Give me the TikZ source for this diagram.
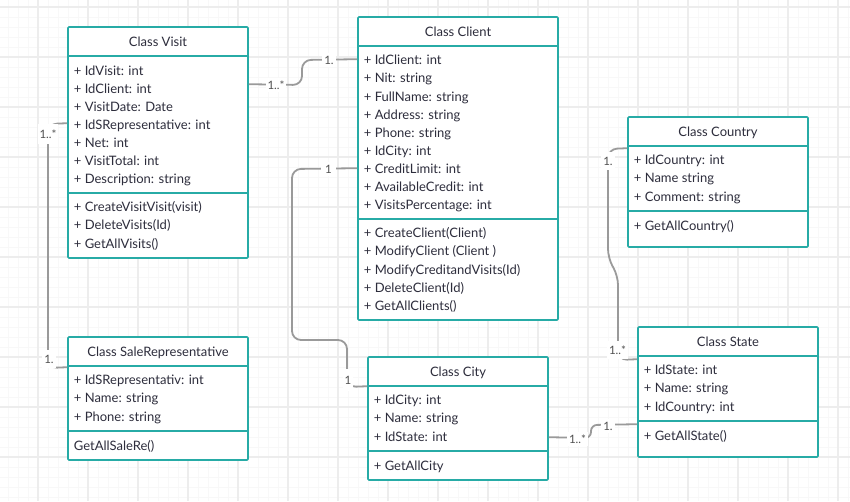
\documentclass[tikz,border=0pt]{standalone}
\usepackage{fontspec}
\setmainfont{Lato}
\usetikzlibrary{fit,calc}

\definecolor{frameteal}{HTML}{27ABA6}
\definecolor{inktext}{HTML}{2D2D3C}
\definecolor{linkgray}{HTML}{9A9A9A}
\definecolor{labelgray}{HTML}{505050}
\definecolor{gridmajor}{HTML}{EDEDED}
\definecolor{gridminor}{HTML}{F8F8F8}

\tikzset{
  classframe/.style={draw=frameteal, line width=1.6pt, fill=white, inner sep=0pt, rounded corners=1pt},
  divider/.style={draw=frameteal, line width=1.6pt},
  titletext/.style={font=\fontsize{13}{15}\selectfont, text=inktext, anchor=base, inner sep=0pt},
  rowtext/.style={font=\fontsize{13}{15}\selectfont, text=inktext, anchor=base west, inner sep=0pt},
  link/.style={draw=linkgray, line width=1.8pt, rounded corners=9pt},
  mult/.style={font=\fontsize{11.5}{13}\selectfont, text=labelgray, fill=white, inner xsep=2pt, inner ysep=3pt},
}

% class box: name, left, top, right, title rule, method rule, bottom, title
\newcommand\umlclass[8]{%
  \node[classframe, fit={(#2,#3) (#4,#7)}] (#1) {};
  \draw[divider] (#2,#5) -- (#4,#5);
  \draw[divider] (#2,#6) -- (#4,#6);
  \node[titletext] (#1-title) at ({(#2+#4)/2},{(#3+#5)/2+5}) {#8};
}
% member rows: prefix, box left, centre of first row, entries
\newcommand\umlrows[4]{%
  \foreach \entry [count=\k] in {#4} {
    \node[rowtext] (#1-\k) at ({#2+5.7},{#3+4.8+(\k-1)*18.1}) {\entry};
  }
}

\begin{document}
\begin{tikzpicture}[x=1pt,y=-1pt]
  \useasboundingbox (0,0) rectangle (850,501);
  \fill[white] (0,0) rectangle (850,501);

  % background grid
  \foreach \x in {8,18,...,848} \draw[gridminor, line width=0.8pt] (\x,0) -- (\x,501);
  \foreach \y in {7,17,...,497} \draw[gridminor, line width=0.8pt] (0,\y) -- (850,\y);
  \foreach \x in {38,88,...,838} \draw[gridmajor, line width=1.5pt] (\x,0) -- (\x,501);
  \foreach \y in {7,57,...,457} \draw[gridmajor, line width=1.5pt] (0,\y) -- (850,\y);

  % classes
  \umlclass{visit}{68}{27}{248}{56}{193}{258}{Class Visit}
  \umlrows{visit-a}{68}{70.5}{{+ IdVisit: int},{+ IdClient: int},{+ VisitDate: Date},{+ IdSRepresentative: int},{+ Net: int},{+ VisitTotal: int},{+ Description: string}}
  \umlrows{visit-m}{68}{207}{{+ CreateVisitVisit(visit)},{+ DeleteVisits(Id)},{+ GetAllVisits()}}

  \umlclass{client}{358}{17}{558}{46}{219}{320}{Class Client}
  \umlrows{client-a}{358}{60}{{+ IdClient: int},{+ Nit: string},{+ FullName: string},{+ Address: string},{+ Phone: string},{+ IdCity: int},{+ CreditLimit: int},{+ AvailableCredit: int},{+ VisitsPercentage: int}}
  \umlrows{client-m}{358}{233}{{+ CreateClient(Client)},{+ ModifyClient (Client )},{+ ModifyCreditandVisits(Id)},{+ DeleteClient(Id)},{+ GetAllClients()}}

  \umlclass{country}{628}{117}{808}{146}{211}{247}{Class Country}
  \umlrows{country-a}{628}{160}{{+ IdCountry: int},{+ Name string},{+ Comment: string}}
  \umlrows{country-m}{628}{226}{{+ GetAllCountry()}}

  \umlclass{state}{638}{327}{818}{356}{421}{457}{Class State}
  \umlrows{state-a}{638}{370}{{+ IdState: int},{+ Name: string},{+ IdCountry: int}}
  \umlrows{state-m}{638}{436}{{+ GetAllState()}}

  \umlclass{city}{368}{357}{548}{386}{451}{480}{Class City}
  \umlrows{city-a}{368}{400}{{+ IdCity: int},{+ Name: string},{+ IdState: int}}
  \umlrows{city-m}{368}{466}{{+ GetAllCity}}

  \umlclass{salerep}{68}{337}{248}{366}{431}{460}{Class SaleRepresentative}
  \umlrows{salerep-a}{68}{380}{{+ IdSRepresentativ: int},{+ Name: string},{+ Phone: string}}
  \umlrows{salerep-m}{68}{446}{{GetAllSaleRe()}}

  % associations
  \draw[link] ($(visit.north east)+(0,58)$) -- (302,85) -- (302,60) -- ($(client.north west)+(0,43)$);
  \draw[link] ($(visit.north west)+(0,97)$) -- (48,124) -- (48,368) -- ($(salerep.north west)+(0,31)$);
  \draw[link] ($(client.north west)+(0,152)$) -- (292,169) -- (292,340) -- (347,340) -- (347,387) -- ($(city.north west)+(0,30)$);
  \draw[link] ($(country.north west)+(0,32)$) -- (608,149) -- (608,258) -- (618,276) -- (618,360) -- ($(state.north west)+(0,33)$);
  \draw[link, rounded corners=6pt] ($(city.north east)+(0,81)$) -- (591,438) -- (591,425) -- ($(state.north west)+(0,98)$);

  % multiplicities
  \node[mult] (m-visit-client) at (276,85) {1..*};
  \node[mult] (m-client-visit) at (329,60) {1.};
  \node[mult, inner ysep=6pt] (m-visit-rep) at (48,134) {1..*};
  \node[mult, inner ysep=5pt] (m-rep-visit) at (49,359) {1.};
  \node[mult, inner xsep=4pt] (m-client-city) at (328.5,169) {1};
  \node[mult, inner ysep=7pt] (m-city-client) at (348,380) {1};
  \node[mult, inner ysep=5pt] (m-country-state) at (608,161) {1.};
  \node[mult, inner ysep=5pt] (m-state-country) at (617.5,350) {1..*};
  \node[mult] (m-city-state) at (577.5,439) {1..*};
  \node[mult] (m-state-city) at (608,426) {1.};
\end{tikzpicture}
\end{document}
